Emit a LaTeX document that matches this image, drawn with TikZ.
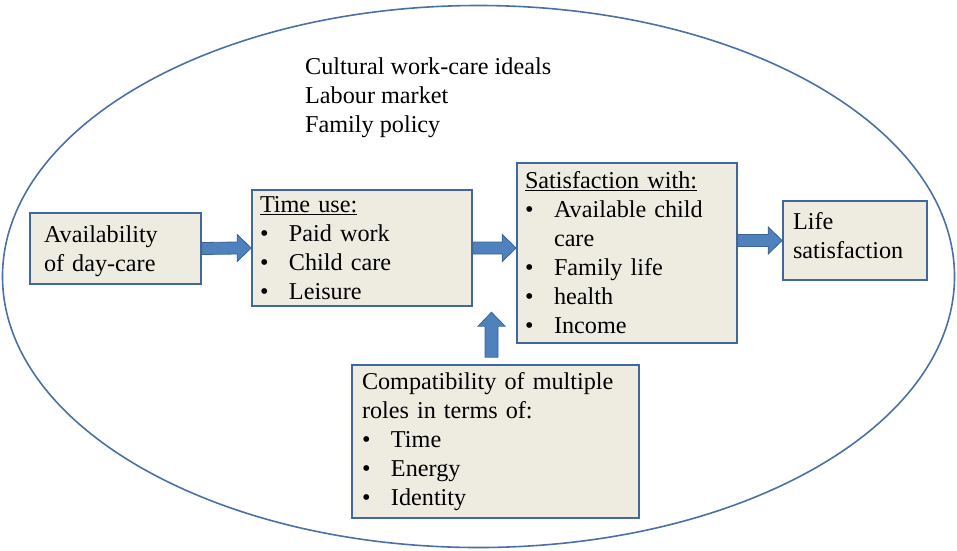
\documentclass[tikz,border=0pt]{standalone}
\usepackage{fontspec}
\setmainfont{Liberation Serif}
\usetikzlibrary{calc}
\definecolor{boxfill}{HTML}{EEECE1}
\definecolor{boxline}{HTML}{41689E}
\definecolor{ellline}{HTML}{4A70A6}
\definecolor{arrfill}{HTML}{4F81BD}
\definecolor{arrline}{HTML}{3A6396}
\newcommand{\bl}{\makebox[29pt][l]{\textbullet}}
\newcommand{\bi}{\hspace*{29pt}}
\newcommand{\rarrow}[2]{%
  \draw[blockarr] ($(#1)+(0,6)$) -- ($(#2)+(-14,6)$) -- ($(#2)+(-14,13.5)$) -- (#2)
    -- ($(#2)+(-14,-13.5)$) -- ($(#2)+(-14,-6)$) -- ($(#1)+(0,-6)$) -- cycle;}
\newcommand{\uarrow}[2]{%
  \draw[blockarr] ($(#1)+(-6.5,0)$) -- ($(#2)+(-6.5,-14)$) -- ($(#2)+(-13.5,-14)$) -- (#2)
    -- ($(#2)+(13.5,-14)$) -- ($(#2)+(6.5,-14)$) -- ($(#1)+(6.5,0)$) -- cycle;}
\tikzset{
  box/.style={draw=boxline, fill=boxfill, line width=1.6pt, rectangle, inner ysep=0pt,
    align=left, font=\fontsize{24.2}{29}\selectfont},
  plain/.style={align=left, inner sep=0pt, font=\fontsize{24.2}{29}\selectfont},
  ell/.style={draw=ellline, line width=1.6pt},
  blockarr/.style={fill=arrfill, draw=arrline, line width=0.8pt, line join=miter}
}
\begin{document}
\begin{tikzpicture}[x=1pt,y=1pt]
\useasboundingbox (0,0) rectangle (957,-550);
\draw[ell] (478.5,-276.5) ellipse [x radius=476, y radius=271];

\node[plain, anchor=west] (context) at (305,-98)
  {Cultural work-care ideals\\Labour market\\Family policy};

\node[box, minimum width=171pt, minimum height=71pt, inner xsep=14pt, text width=143pt]
  (avail) at (115.5,-248.5) {\rule{0pt}{23pt}Availability\\of day-care};

\node[box, minimum width=220pt, minimum height=116pt, inner xsep=8pt, text width=204pt]
  (time) at (362,-248) {\underline{Time use:}\\\bl Paid work\\\bl Child care\\\bl Leisure};

\node[box, minimum width=220pt, minimum height=180pt, inner xsep=8pt, text width=204pt]
  (sat) at (627,-253) {\underline{Satisfaction with:}\\\bl Available child\\\bi care\\\bl Family life\\\bl health\\\bl Income};

\node[box, minimum width=144pt, minimum height=79pt, inner xsep=10pt, text width=124pt]
  (life) at (855,-240.5) {Life\\satisfaction\rule[-10pt]{0pt}{10pt}};

\node[box, minimum width=287pt, minimum height=153pt, inner xsep=10pt, text width=267pt]
  (compat) at (495.5,-441.5) {Compatibility of multiple\\roles in terms of:\\\bl Time\\\bl Energy\\\bl Identity};

\coordinate (a2end) at (time.east -| sat.west);
\coordinate (a3start) at (life.west -| sat.east);
\coordinate (upbase) at ($(compat.north)+(-4,7)$);
\coordinate (uptip) at ($(compat.north)+(-4,52)$);

\rarrow{avail.east}{time.west}
\rarrow{time.east}{a2end}
\rarrow{a3start}{life.west}
\uarrow{upbase}{uptip}
\end{tikzpicture}
\end{document}
